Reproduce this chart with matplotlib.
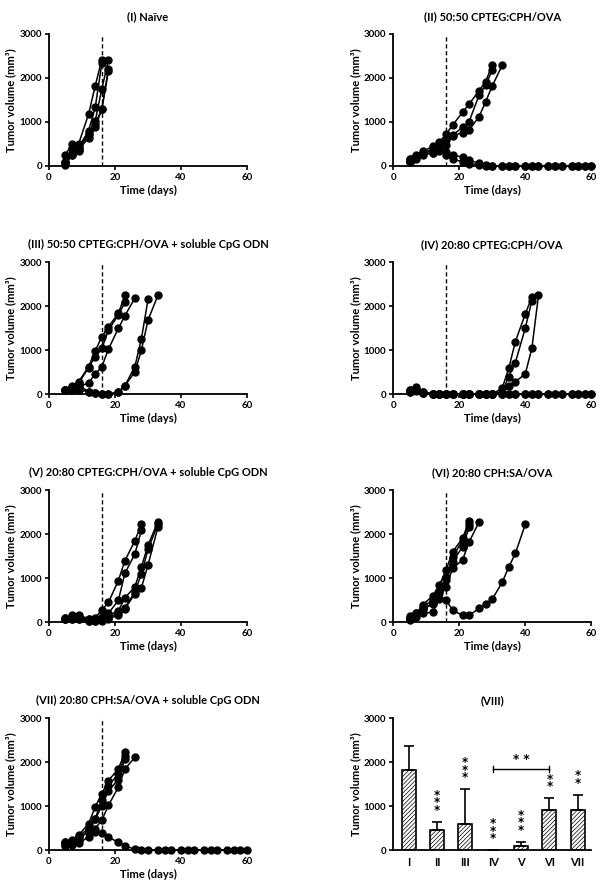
"""Tumor growth curves per treatment group plus day-16 volume summary."""

import matplotlib
matplotlib.use("Agg")
import matplotlib.pyplot as plt


DAYS = [5, 7, 9, 12, 14, 16, 18, 21, 23, 26, 28, 30, 33,
        35, 37, 40, 42, 44, 47, 49, 51, 54, 56, 58, 60]

# each list holds one mouse, values follow DAYS from day 5 until the mouse drops out
NAIVE = [
    [260, 500, 510, 1180, 1820, 2420],
    [100, 420, 430, 800, 1330, 2330],
    [30, 250, 350, 760, 1020, 1750, 2410],
    [100, 260, 370, 640, 880, 1290, 2200],
    [60, 300, 420, 700, 950, 1300, 2170],
]

CPTEG_50_OVA = [
    [150, 250, 330, 450, 550, 720, 930, 1220, 1410, 1710, 1920, 2300],
    [100, 200, 300, 380, 450, 600, 700, 880, 1010, 1610, 1840, 2180],
    [80, 150, 250, 300, 400, 480, 680, 760, 820, 1120, 1460, 1820, 2290],
    [150, 220, 300, 350, 400, 320, 250, 200, 130, 60, 20, 0, 0,
     0, 0, 0, 0, 0, 0, 0, 0, 0, 0, 0, 0],
    [120, 200, 280, 300, 350, 250, 150, 100, 50, 30, 0, 0, 0,
     0, 0, 0, 0, 0, 0, 0, 0, 0, 0, 0, 0],
]

CPTEG_50_OVA_CPG = [
    [90, 190, 280, 620, 980, 1300, 1530, 1830, 2245],
    [90, 150, 250, 600, 850, 1035, 1450, 1800, 2080],
    [90, 100, 150, 260, 450, 620, 1020, 1490, 1780, 2180],
    [90, 90, 200, 50, 15, 0, 0, 40, 190, 620, 1260, 2150],
    [90, 100, 100, 50, 15, 0, 0, 40, 190, 500, 1000, 1680, 2245],
]

CPTEG_20_OVA = [
    [100, 170, 50, 0, 0, 0, 0, 0, 0, 0, 0, 0, 130, 585, 1190, 1820, 2200],
    [60, 100, 30, 0, 0, 0, 0, 0, 0, 0, 0, 0, 50, 395, 714, 1500, 2120],
    [40, 80, 20, 0, 0, 0, 0, 0, 0, 0, 0, 0, 0, 190, 280, 455, 1040, 2240],
    [80, 120, 40, 0, 0, 0, 0, 0, 0, 0, 0, 0, 0,
     0, 0, 0, 0, 0, 0, 0, 0, 0, 0, 0, 0],
    [50, 60, 30, 0, 0, 0, 0, 0, 0, 0, 0, 0, 0,
     0, 0, 0, 0, 0, 0, 0, 0, 0, 0, 0, 0],
]

CPTEG_20_OVA_CPG = [
    [100, 150, 150, 80, 100, 270, 445, 940, 1394, 1846, 2223],
    [60, 120, 100, 50, 80, 120, 200, 490, 1108, 1545, 2087],
    [80, 80, 140, 60, 40, 60, 150, 250, 550, 800, 1250, 1750, 2280],
    [90, 100, 80, 30, 20, 50, 100, 200, 330, 680, 1100, 1650, 2230],
    [70, 60, 60, 20, 30, 30, 80, 150, 300, 640, 780, 1300, 2160],
]

CPH_SA_OVA = [
    [130, 200, 390, 600, 840, 1180, 1600, 1900, 2300],
    [100, 180, 350, 500, 700, 1030, 1485, 1850, 2220],
    [80, 150, 300, 430, 650, 950, 1370, 1710, 2150],
    [50, 120, 200, 220, 550, 800, 1220, 1410, 1820, 2275],
    [100, 200, 300, 400, 520, 500, 270, 150, 150, 310, 420, 520,
     900, 1250, 1560, 2220],
]

CPH_SA_OVA_CPG = [
    [180, 230, 340, 600, 980, 1280, 1580, 1843, 2218],
    [150, 200, 300, 500, 714, 1128, 1466, 1730, 2143],
    [120, 150, 225, 450, 700, 1000, 1353, 1600, 2068],
    [100, 120, 150, 301, 489, 677, 1015, 1428, 1843, 2105],
    [180, 200, 300, 400, 420, 376, 290, 180, 95, 20, 0, 0, 0,
     0, 0, 0, 0, 0, 0, 0, 0, 0, 0, 0, 0],
]

TITLES = [
    "(I) Naïve",
    "(II) 50:50 CPTEG:CPH/OVA",
    "(III) 50:50 CPTEG:CPH/OVA + soluble CpG ODN",
    "(IV) 20:80 CPTEG:CPH/OVA",
    "(V) 20:80 CPTEG:CPH/OVA + soluble CpG ODN",
    "(VI) 20:80 CPH:SA/OVA",
    "(VII) 20:80 CPH:SA/OVA + soluble CpG ODN",
]

GROUPS = ["I", "II", "III", "IV", "V", "VI", "VII"]
MEAN_VOLUME = [1824, 452, 588, 0, 90, 904, 904]
SD_VOLUME = [542, 196, 800, 0, 98, 279, 354]
STAR_COUNT = [0, 3, 3, 3, 3, 2, 2]

VACCINE_DAY = 16
YLABEL = "Tumor volume (mm³)"

plt.rcParams["font.family"] = ["Lato", "DejaVu Sans"]
plt.rcParams["font.weight"] = "bold"
plt.rcParams["axes.labelweight"] = "bold"
plt.rcParams["axes.titleweight"] = "bold"
plt.rcParams["hatch.linewidth"] = 0.5

LEFT_X = [0.0811, 0.651]
ROW_Y = [0.8135, 0.5573, 0.3011, 0.0449]
AX_W = 0.328
AX_H = 0.1483


def style_axes(ax):
    for side in ("top", "right"):
        ax.spines[side].set_visible(False)
    for side in ("left", "bottom"):
        ax.spines[side].set_linewidth(1.3)
    ax.tick_params(direction="out", length=3, width=1.2,
                   labelsize=7, pad=2)
    for label in ax.get_xticklabels() + ax.get_yticklabels():
        label.set_fontweight("bold")
    ax.set_ylim(0, 3000)
    ax.set_yticks([0, 1000, 2000, 3000])
    ax.set_ylabel(YLABEL, fontsize=8, labelpad=2)


def draw_growth(ax, title, curves):
    ax.axvline(VACCINE_DAY, color="black", lw=1.0, ls=(0, (3, 2)))
    for values in curves:
        ax.plot(DAYS[:len(values)], values, color="black", lw=1.1,
                marker="o", ms=5, clip_on=False, zorder=3)
    ax.set_xlim(0, 60)
    ax.set_xticks([0, 20, 40, 60])
    ax.set_xlabel("Time (days)", fontsize=8, labelpad=2)
    ax.set_title(title, fontsize=8, pad=10)
    style_axes(ax)


def draw_summary(ax):
    x = list(range(len(GROUPS)))
    tops = [m + s for m, s in zip(MEAN_VOLUME, SD_VOLUME)]
    ax.bar(x, MEAN_VOLUME, width=0.5, color="white", edgecolor="black",
           linewidth=1.2, hatch="////////", zorder=2)
    ax.errorbar(x, MEAN_VOLUME, yerr=[[0] * len(x), SD_VOLUME], fmt="none",
                ecolor="black", elinewidth=1.2, capsize=3.5, capthick=1.2,
                zorder=3)
    for xi, top, count in zip(x, tops, STAR_COUNT):
        if count:
            ax.text(xi, top + 110, "\n".join(["*"] * count), ha="center",
                    va="bottom", fontsize=8.5, linespacing=0.45,
                    family="DejaVu Sans")
    ax.plot([3, 5], [1846, 1846], color="black", lw=1.0)
    ax.plot([3, 3], [1780, 1900], color="black", lw=1.0)
    ax.plot([5, 5], [1780, 1900], color="black", lw=1.0)
    ax.text(4, 1920, "* *", ha="center", va="bottom", fontsize=8.5,
            family="DejaVu Sans")
    ax.set_xlim(-0.56, 6.49)
    ax.set_xticks(x)
    ax.set_xticklabels(GROUPS)
    ax.set_title("(VIII)", fontsize=8, pad=10)
    style_axes(ax)
    ax.tick_params(axis="x", length=0, pad=5, labelsize=8)


def main():
    fig = plt.figure(figsize=(6.04, 8.90), dpi=100)

    datasets = [NAIVE, CPTEG_50_OVA, CPTEG_50_OVA_CPG, CPTEG_20_OVA,
                CPTEG_20_OVA_CPG, CPH_SA_OVA, CPH_SA_OVA_CPG]

    for i, (title, curves) in enumerate(zip(TITLES, datasets)):
        ax = fig.add_axes([LEFT_X[i % 2], ROW_Y[i // 2], AX_W, AX_H])
        draw_growth(ax, title, curves)

    ax = fig.add_axes([LEFT_X[1], ROW_Y[3], AX_W, AX_H])
    draw_summary(ax)

    fig.savefig("out.png", dpi=100)


if __name__ == "__main__":
    main()
